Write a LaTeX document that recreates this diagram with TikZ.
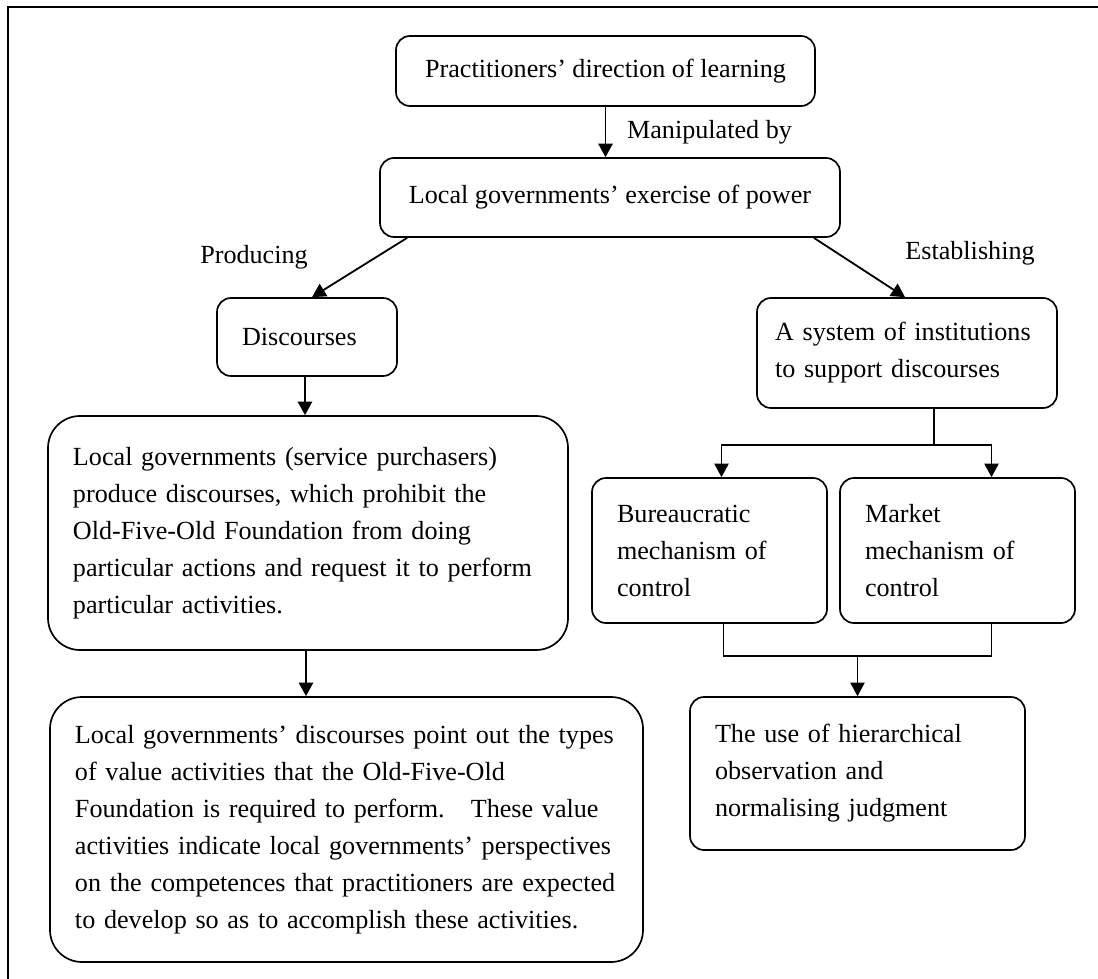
\documentclass[tikz,border=0pt]{standalone}
\usepackage{fontspec}
\setmainfont{Liberation Serif}
\usetikzlibrary{arrows.meta}

\begin{document}
\begin{tikzpicture}[x=0.25mm, y=-0.25mm,
		font=\fontsize{18.6}{26.3}\selectfont,
		>={Triangle[length=3.4mm, width=3.6mm]},
		box/.style={draw, rectangle, line width=1.2pt, rounded corners=3.5mm, inner xsep=6.25mm, inner ysep=0pt},
		bigbox/.style={box, rounded corners=8mm},
		link/.style={->, line width=1.3pt},
		fork/.style={line width=0.8pt}]
	\useasboundingbox (0,0) rectangle (1098,979);
	\draw[line width=1.2pt] (8,979) -- (8,7) -- (1098,7);
	% top of the chain
	\node[box, minimum width=104.75mm, minimum height=17.5mm] (prac)at(605.5, 71) {Practitioners' direction of learning};
	\node[box, minimum width=115mm, minimum height=19.75mm] (power)at(610, 197.5) {Local governments' exercise of power};
	\node (prodlbl)at(254, 257) {Producing};
	\node (estlbl)at(970, 253) {Establishing};
	% left branch
	\node[box, text width=32.5mm, minimum height=19.5mm, align=left] (disc)at(307, 337) {Discourses};
	\node[bigbox, text width=117.5mm, minimum height=58.5mm, align=left] (prod)at(308, 533) {Local governments (service purchasers)\\produce discourses, which prohibit the\\Old-Five-Old Foundation from doing\\particular actions and request it to perform\\particular activities.};
	\node[bigbox, text width=135.75mm, minimum height=66.25mm, align=left] (types)at(346.5, 829.5) {Local governments' discourses point out the types\\of value activities that the Old-Five-Old\\Foundation is required to perform.\ \ \ These value\\activities indicate local governments' perspectives\\on the competences that practitioners are expected\\to develop so as to accomplish these activities.};
	% right branch
	\node[box, inner xsep=4.5mm, text width=66mm, minimum height=27.5mm, align=left] (inst)at(907, 353) {A system of institutions\\to support discourses};
	\node[box, text width=46.25mm, minimum height=36.25mm, align=left] (bur)at(709.5, 550.5) {Bureaucratic\\mechanism of\\control};
	\node[box, text width=46.25mm, minimum height=36.25mm, align=left] (mkt)at(957.5, 550.5) {Market\\mechanism of\\control};
	\node[box, text width=71.25mm, minimum height=38.25mm, align=left] (use)at(857.5, 773.5) {The use of hierarchical\\observation and\\normalising judgment};
	\coordinate (fork)at(934, 445);
	\coordinate (join)at(857.5, 656);
	\draw[link] (prac.south) -- (prac.south |- power.north) node[midway, right=4mm] {Manipulated by};
	\draw[link] ([xshift=7mm]power.south west) -- ([xshift=1.25mm]disc.north);
	\draw[link] ([xshift=-6.75mm]power.south east) -- ([xshift=-0.5mm]inst.north);
	\draw[link] ([xshift=-0.5mm]disc.south) -- ([xshift=-0.5mm]disc.south |- prod.north);
	\draw[link] ([xshift=-0.5mm]prod.south) -- ([xshift=-0.5mm]prod.south |- types.north);
	\draw[fork] (inst.south -| fork) -- (fork);
	\draw[fork, ->] (fork) -| ([xshift=3mm]bur.north);
	\draw[fork, ->] (fork) -| ([xshift=8.5mm]mkt.north);
	\draw[fork] ([xshift=3.4mm]bur.south) |- (join) -| ([xshift=8.5mm]mkt.south);
	\draw[fork, ->] (join) -- (use.north);
\end{tikzpicture}
\end{document}
